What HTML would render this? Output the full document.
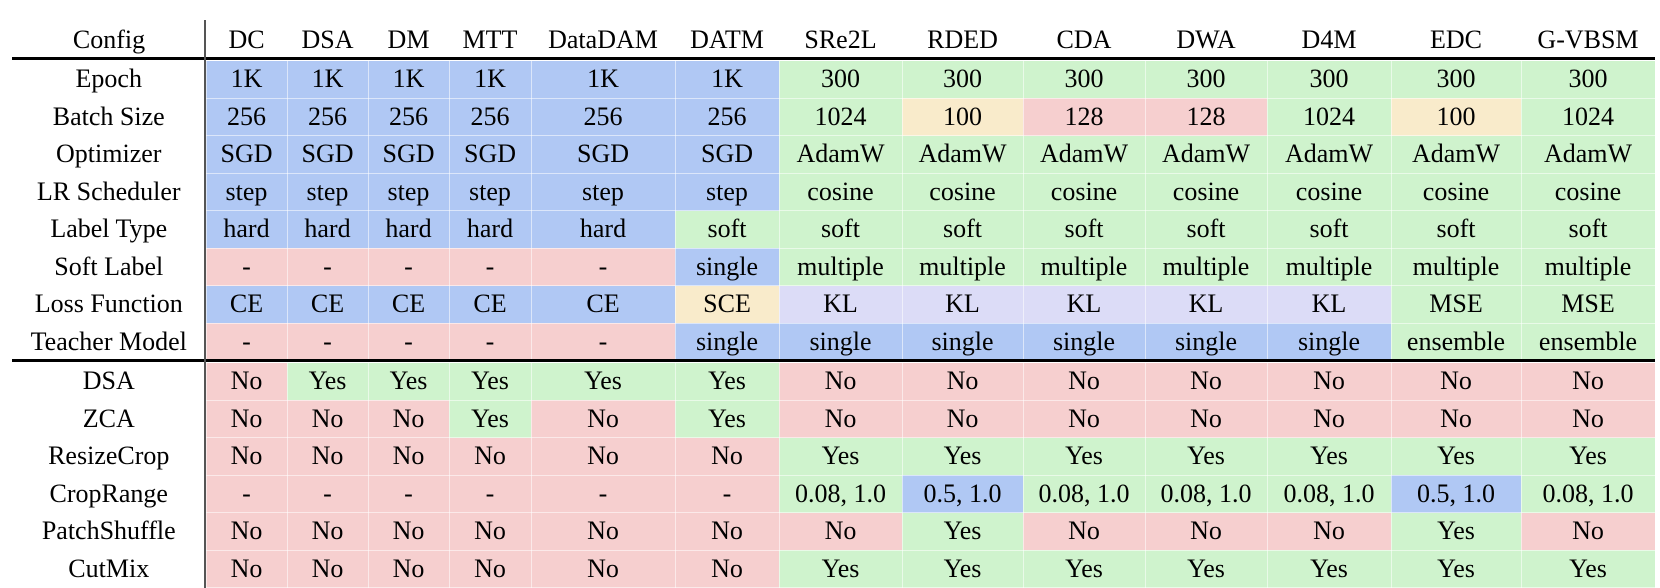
<!DOCTYPE html>
<html><head><meta charset="utf-8"><style>
body{margin:0;width:1660px;height:588px;background:#fff;position:relative;overflow:hidden;font-family:"Liberation Serif",serif;font-size:26px;color:#000}
table{position:absolute;left:12px;border-collapse:collapse;table-layout:fixed;width:1643px}
td{padding:0;text-align:center;white-space:nowrap;border:1px solid rgba(255,255,255,0.55);line-height:1}
td.l{border:none;background:#fff}
.t1 td{height:36.5px}
.B{background:#b0c8f4}.G{background:#cff3cd}.R{background:#f6cfcf}.Y{background:#f9ebcb}.L{background:#dcdcf7}
.hdr{position:absolute;top:25px;left:0;height:30px}
.hdr span{position:absolute;text-align:center;top:0}
.rule{position:absolute;left:12px;width:1643px;height:3px;background:#000}
.vl{position:absolute;left:204px;top:20px;width:2px;height:568px;background:#555}
</style></head><body>
<div class="hdr">
<span style="left:12px;width:194px">Config</span>
<span style="left:206px;width:81px">DC</span>
<span style="left:287px;width:81px">DSA</span>
<span style="left:368px;width:81px">DM</span>
<span style="left:449px;width:82px">MTT</span>
<span style="left:531px;width:144px">DataDAM</span>
<span style="left:675px;width:104px">DATM</span>
<span style="left:779px;width:123px">SRe2L</span>
<span style="left:902px;width:121px">RDED</span>
<span style="left:1023px;width:122px">CDA</span>
<span style="left:1145px;width:122px">DWA</span>
<span style="left:1267px;width:124px">D4M</span>
<span style="left:1391px;width:130px">EDC</span>
<span style="left:1521px;width:134px">G-VBSM</span>
</div>
<div class="rule" style="top:57px"></div>
<table class="t1" style="top:60px">
<colgroup><col style="width:194px"><col style="width:81px"><col style="width:81px"><col style="width:81px"><col style="width:82px"><col style="width:144px"><col style="width:104px"><col style="width:123px"><col style="width:121px"><col style="width:122px"><col style="width:122px"><col style="width:124px"><col style="width:130px"><col style="width:134px"></colgroup>
<tr><td class="l">Epoch</td><td class="B">1K</td><td class="B">1K</td><td class="B">1K</td><td class="B">1K</td><td class="B">1K</td><td class="B">1K</td><td class="G">300</td><td class="G">300</td><td class="G">300</td><td class="G">300</td><td class="G">300</td><td class="G">300</td><td class="G">300</td></tr>
<tr><td class="l">Batch Size</td><td class="B">256</td><td class="B">256</td><td class="B">256</td><td class="B">256</td><td class="B">256</td><td class="B">256</td><td class="G">1024</td><td class="Y">100</td><td class="R">128</td><td class="R">128</td><td class="G">1024</td><td class="Y">100</td><td class="G">1024</td></tr>
<tr><td class="l">Optimizer</td><td class="B">SGD</td><td class="B">SGD</td><td class="B">SGD</td><td class="B">SGD</td><td class="B">SGD</td><td class="B">SGD</td><td class="G">AdamW</td><td class="G">AdamW</td><td class="G">AdamW</td><td class="G">AdamW</td><td class="G">AdamW</td><td class="G">AdamW</td><td class="G">AdamW</td></tr>
<tr><td class="l">LR Scheduler</td><td class="B">step</td><td class="B">step</td><td class="B">step</td><td class="B">step</td><td class="B">step</td><td class="B">step</td><td class="G">cosine</td><td class="G">cosine</td><td class="G">cosine</td><td class="G">cosine</td><td class="G">cosine</td><td class="G">cosine</td><td class="G">cosine</td></tr>
<tr><td class="l">Label Type</td><td class="B">hard</td><td class="B">hard</td><td class="B">hard</td><td class="B">hard</td><td class="B">hard</td><td class="G">soft</td><td class="G">soft</td><td class="G">soft</td><td class="G">soft</td><td class="G">soft</td><td class="G">soft</td><td class="G">soft</td><td class="G">soft</td></tr>
<tr><td class="l">Soft Label</td><td class="R">-</td><td class="R">-</td><td class="R">-</td><td class="R">-</td><td class="R">-</td><td class="B">single</td><td class="G">multiple</td><td class="G">multiple</td><td class="G">multiple</td><td class="G">multiple</td><td class="G">multiple</td><td class="G">multiple</td><td class="G">multiple</td></tr>
<tr><td class="l">Loss Function</td><td class="B">CE</td><td class="B">CE</td><td class="B">CE</td><td class="B">CE</td><td class="B">CE</td><td class="Y">SCE</td><td class="L">KL</td><td class="L">KL</td><td class="L">KL</td><td class="L">KL</td><td class="L">KL</td><td class="G">MSE</td><td class="G">MSE</td></tr>
<tr><td class="l">Teacher Model</td><td class="R">-</td><td class="R">-</td><td class="R">-</td><td class="R">-</td><td class="R">-</td><td class="B">single</td><td class="B">single</td><td class="B">single</td><td class="B">single</td><td class="B">single</td><td class="B">single</td><td class="G">ensemble</td><td class="G">ensemble</td></tr>
</table>
<div class="rule" style="top:359px"></div>
<table class="t1" style="top:362px">
<colgroup><col style="width:194px"><col style="width:81px"><col style="width:81px"><col style="width:81px"><col style="width:82px"><col style="width:144px"><col style="width:104px"><col style="width:123px"><col style="width:121px"><col style="width:122px"><col style="width:122px"><col style="width:124px"><col style="width:130px"><col style="width:134px"></colgroup>
<tr><td class="l">DSA</td><td class="R">No</td><td class="G">Yes</td><td class="G">Yes</td><td class="G">Yes</td><td class="G">Yes</td><td class="G">Yes</td><td class="R">No</td><td class="R">No</td><td class="R">No</td><td class="R">No</td><td class="R">No</td><td class="R">No</td><td class="R">No</td></tr>
<tr><td class="l">ZCA</td><td class="R">No</td><td class="R">No</td><td class="R">No</td><td class="G">Yes</td><td class="R">No</td><td class="G">Yes</td><td class="R">No</td><td class="R">No</td><td class="R">No</td><td class="R">No</td><td class="R">No</td><td class="R">No</td><td class="R">No</td></tr>
<tr><td class="l">ResizeCrop</td><td class="R">No</td><td class="R">No</td><td class="R">No</td><td class="R">No</td><td class="R">No</td><td class="R">No</td><td class="G">Yes</td><td class="G">Yes</td><td class="G">Yes</td><td class="G">Yes</td><td class="G">Yes</td><td class="G">Yes</td><td class="G">Yes</td></tr>
<tr><td class="l">CropRange</td><td class="R">-</td><td class="R">-</td><td class="R">-</td><td class="R">-</td><td class="R">-</td><td class="R">-</td><td class="G">0.08, 1.0</td><td class="B">0.5, 1.0</td><td class="G">0.08, 1.0</td><td class="G">0.08, 1.0</td><td class="G">0.08, 1.0</td><td class="B">0.5, 1.0</td><td class="G">0.08, 1.0</td></tr>
<tr><td class="l">PatchShuffle</td><td class="R">No</td><td class="R">No</td><td class="R">No</td><td class="R">No</td><td class="R">No</td><td class="R">No</td><td class="R">No</td><td class="G">Yes</td><td class="R">No</td><td class="R">No</td><td class="R">No</td><td class="G">Yes</td><td class="R">No</td></tr>
<tr><td class="l">CutMix</td><td class="R">No</td><td class="R">No</td><td class="R">No</td><td class="R">No</td><td class="R">No</td><td class="R">No</td><td class="G">Yes</td><td class="G">Yes</td><td class="G">Yes</td><td class="G">Yes</td><td class="G">Yes</td><td class="G">Yes</td><td class="G">Yes</td></tr>
</table>
<div class="vl"></div>
</body></html>
